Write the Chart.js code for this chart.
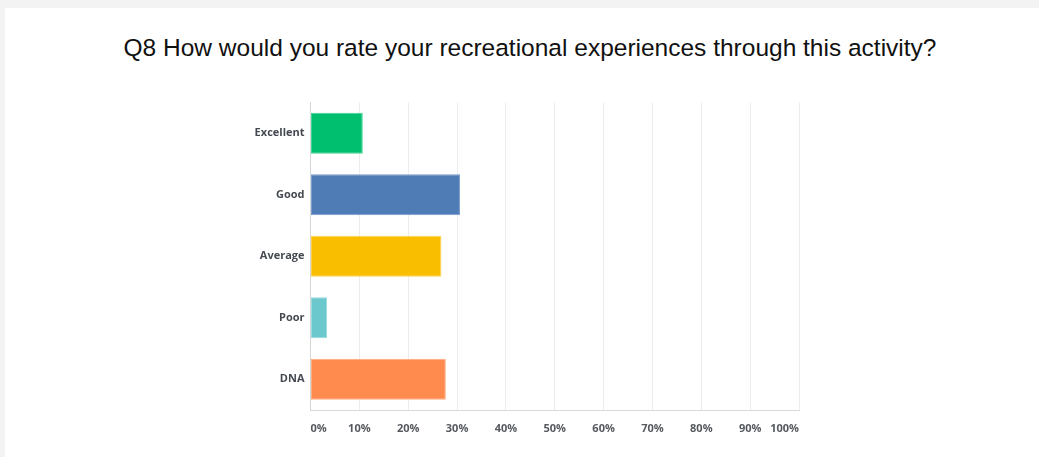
<!DOCTYPE html>
<html>
<head>
<meta charset="utf-8">
<script src="https://cdn.jsdelivr.net/npm/chart.js@4"></script>
<style>
  html, body { margin: 0; padding: 0; background: #f3f3f3; width: 1039px; height: 457px; overflow: hidden; }
  #panel { position: absolute; left: 5px; top: 8px; right: 0; bottom: 0; background: #fff; }
  #title {
    position: absolute; left: 0; width: 1060px; top: 33.5px; text-align: center;
    font: 24.5px/28px "Liberation Sans", Arial, sans-serif; color: #111; white-space: nowrap;
  }
  #chartBox { position: absolute; left: 200px; top: 90px; width: 620px; height: 360px; }
</style>
</head>
<body>
<div id="panel"></div>
<div id="title">Q8 How would you rate your recreational experiences through this activity?</div>
<div id="chartBox"><canvas id="chart-q8"></canvas></div>
<script>
// ─── DATA ─────────────────────────────────────────────────────────────────────
const ANSWERS = ['Excellent', 'Good', 'Average', 'Poor', 'DNA'];
const PERCENTS = [10.7, 30.6, 26.8, 3.4, 27.7];
const BAR_FILLS = ['#00bf6f', '#507cb6', '#f9be00', '#6bc8cd', '#ff8b4f'];
const BAR_EDGES = ['#3fd493', '#7b9dcb', '#fbd14c', '#97d9dc', '#ffab80'];
const X_TICKS = [0, 10, 20, 30, 40, 50, 60, 70, 80, 90, 100];

// ─── RENDER CHART ─────────────────────────────────────────────────────────────
const ctx = document.getElementById('chart-q8').getContext('2d');
new Chart(ctx, {
  type: 'bar',
  data: {
    labels: ANSWERS,
    datasets: [{
      data: PERCENTS,
      backgroundColor: BAR_FILLS,
      borderColor: BAR_EDGES,
      borderWidth: 1,
      borderSkipped: false,
      categoryPercentage: 1,
      barPercentage: 0.667
    }]
  },
  options: {
    indexAxis: 'y',
    responsive: true, maintainAspectRatio: false, animation: false,
    layout: { padding: { left: 0, right: 21, top: 12, bottom: 0 } },
    plugins: { legend: { display: false }, tooltip: { enabled: false } },
    scales: {
      x: {
        min: 0, max: 100,
        afterBuildTicks: s => { s.ticks = X_TICKS.map(v => ({ value: v })); },
        afterFit: s => { s.height = 40; },
        grid: { color: '#ececec', drawTicks: false },
        border: { color: '#d9d9d9' },
        ticks: {
          align: 'inner', padding: 12, color: '#55595e',
          font: { family: 'Open Sans', size: 11, weight: '700' },
          callback: v => v + '%'
        }
      },
      y: {
        afterFit: s => { s.width = 110.5; },
        grid: { display: false, drawTicks: false },
        border: { color: '#d6d6d6' },
        ticks: {
          padding: 6, color: '#454a52',
          font: { family: 'Open Sans', size: 11, weight: '700' }
        }
      }
    }
  }
});
</script>
</body>
</html>
